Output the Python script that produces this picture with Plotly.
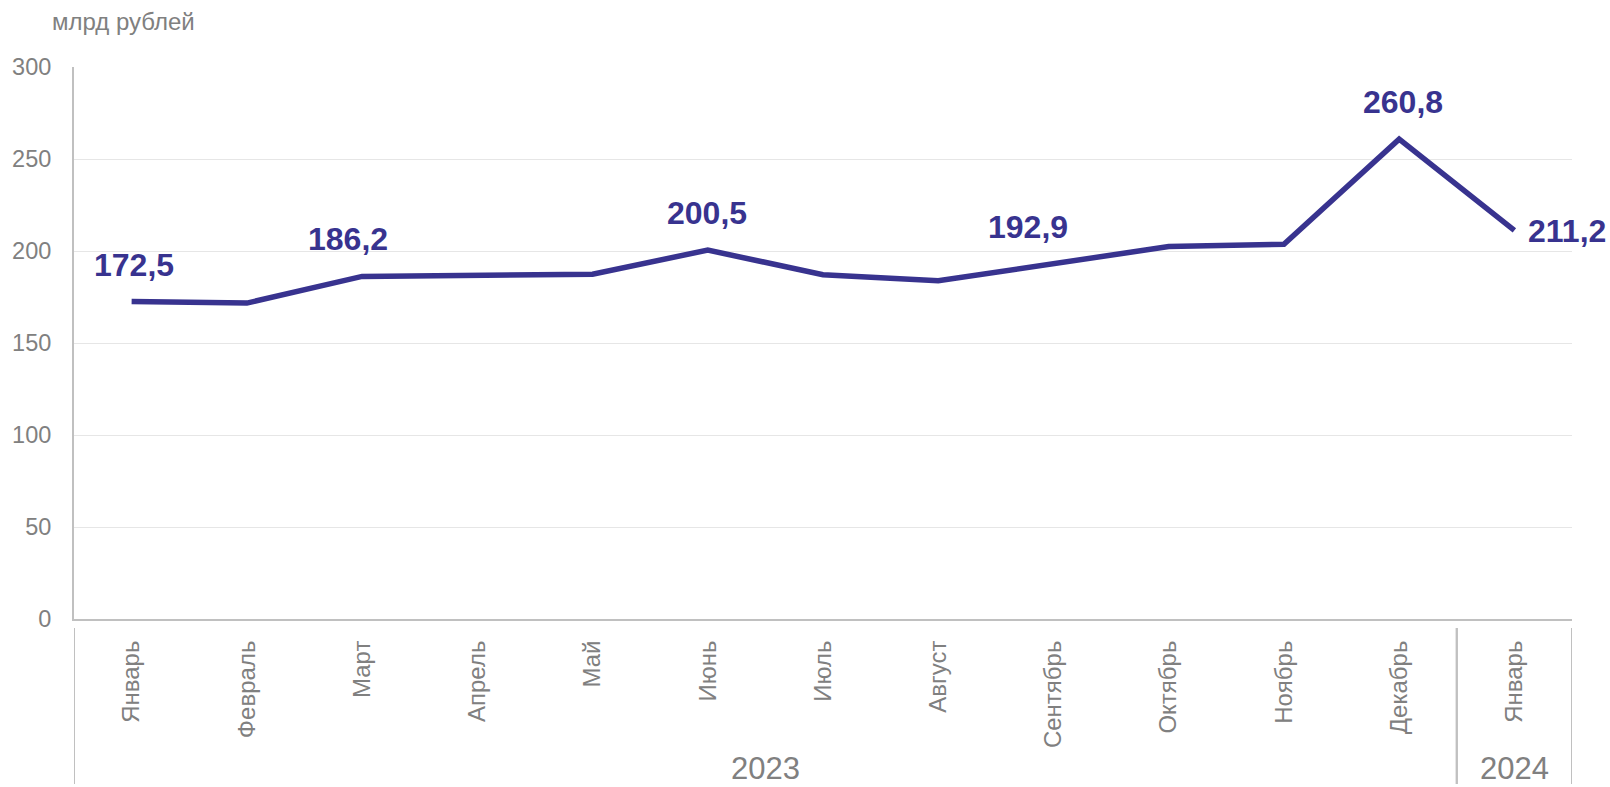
import plotly.graph_objects as go

# ---- data ----
months = ["Январь", "Февраль", "Март", "Апрель", "Май", "Июнь", "Июль",
          "Август", "Сентябрь", "Октябрь", "Ноябрь", "Декабрь", "Январь"]
years = ["2023"] * 12 + ["2024"]
values = [172.5, 171.7, 186.2, 186.8, 187.4, 200.5, 187.1,
          183.8, 192.9, 202.4, 203.7, 260.8, 211.2]
labeled = [True, False, True, False, False, True, False,
           False, True, False, False, True, True]
y_ticks = [0, 50, 100, 150, 200, 250, 300]
unit_title = "млрд рублей"

# ---- style ----
LINE = "#38338F"
GRAY = "#808080"
FONT = "Liberation Sans, Arial, sans-serif"
label_xshift = [2, 0, -14, 0, 0, -1, 0, 0, -25, 0, 0, 4, 12]
label_yshift = [37, 0, 37, 0, 0, 37, 0, 0, 37, 0, 0, 37, -1]

PL, PR, PT, PB = 74, 1572, 67, 619  # plot area in pixels

x_idx = list(range(len(months)))

fig = go.Figure()
fig.add_trace(go.Scatter(
    x=x_idx, y=values, mode="lines",
    line=dict(color=LINE, width=5.5),
    hoverinfo="skip", showlegend=False,
))

annotations = []
last = len(values) - 1
for i, (v, lab) in enumerate(zip(values, labeled)):
    if not lab:
        continue
    annotations.append(dict(
        x=x_idx[i], y=v, xref="x", yref="y",
        text=f"{v:.1f}".replace(".", ","), showarrow=False,
        font=dict(family=FONT, size=32, color=LINE, weight="bold"),
        xanchor="left" if i == last else "center", yanchor="middle",
        xshift=label_xshift[i], yshift=label_yshift[i],
    ))

# year group labels and separators
groups = []
for i, yv in enumerate(years):
    if not groups or groups[-1][0] != yv:
        groups.append([yv, i, i])
    else:
        groups[-1][2] = i

ph = PB - PT
shapes = []
for g in groups:
    yv, s, e = g
    annotations.append(dict(
        x=(s + e) / 2, y=(PB - 768) / ph, xref="x", yref="paper",
        text=yv, showarrow=False,
        font=dict(family=FONT, size=31, color=GRAY),
        xanchor="center", yanchor="middle",
    ))
    for xb in (s - 0.5, e + 0.5):
        shapes.append(dict(
            type="line", xref="x", yref="paper",
            x0=xb, x1=xb, y0=(PB - 628) / ph, y1=(PB - 784) / ph,
            line=dict(color="#c0c0c0", width=2),
        ))

annotations.append(dict(
    x=(50 - PL) / (PR - PL), y=(PB - 21.7) / ph, xref="paper", yref="paper",
    text=unit_title, showarrow=False,
    font=dict(family=FONT, size=24, color=GRAY),
    xanchor="left", yanchor="middle",
))

fig.update_layout(
    width=1610, height=787,
    margin=dict(l=PL, r=1610 - PR, t=PT, b=787 - PB),
    paper_bgcolor="white", plot_bgcolor="white",
    font=dict(family=FONT, color=GRAY, size=23),
    annotations=annotations, shapes=shapes,
    showlegend=False,
)
fig.update_xaxes(
    range=[-0.5, len(months) - 0.5],
    tickmode="array", tickvals=x_idx, ticktext=months,
    tickangle=-90, tickfont=dict(size=24, color=GRAY, family=FONT),
    showgrid=False, zeroline=False,
    showline=True, linecolor="#c0c0c0", linewidth=2,
    ticks="", ticklabelstandoff=10,
)
fig.update_yaxes(
    range=[0, 300], tickmode="array", tickvals=y_ticks,
    tickfont=dict(size=23.5, color=GRAY, family=FONT),
    showgrid=True, gridcolor="#e6e6e6", gridwidth=1,
    zeroline=False, showline=True, linecolor="#c0c0c0", linewidth=2,
    ticks="", ticklabelstandoff=16,
)

fig.write_html(
    "out.html",
    config={"displayModeBar": False},
    post_script="document.body.style.margin='0';document.body.style.overflow='hidden';",
)
